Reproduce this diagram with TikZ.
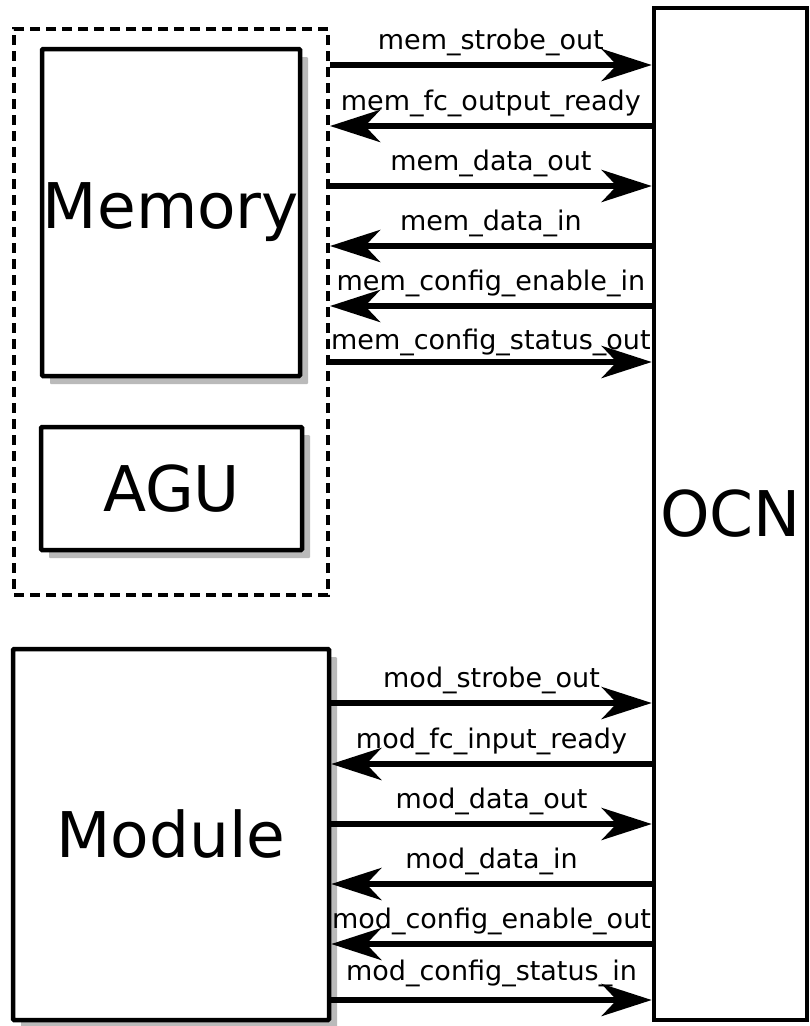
\documentclass[tikz,border=0pt]{standalone}
\usepackage{fontspec}
\setmainfont{DejaVu Sans}
\usetikzlibrary{arrows.meta}
\usetikzlibrary{shadows}

\begin{document}
\begin{tikzpicture}[x=1pt,y=-1pt,inner sep=0pt,
  blk/.style={draw,line width=4.5pt,fill=white,rounded corners=1pt,
    general shadow={fill=black!27,shadow xshift=8pt,shadow yshift=-8pt}},
  big/.style={font=\fontsize{63}{63}\selectfont},
  sig/.style={line width=6.5pt,-{Stealth[length=50pt,width=32pt,inset=15pt]}},
  lbl/.style={font=\fontsize{27}{27}\selectfont,anchor=base,midway,yshift=16pt}]
\useasboundingbox (0,0) rectangle (810,1026);

% blocks
\node[draw,line width=4pt,dash pattern=on 10pt off 6pt,minimum width=314pt,minimum height=566pt] (grp) at (171,312) {};
\node[blk,big,minimum width=258pt,minimum height=327pt] (mem) at (171,212.5) {Memory};
\node[blk,big,minimum width=261pt,minimum height=123pt] (agu) at (171.5,488.5) {AGU};
\node[blk,big,minimum width=316pt,minimum height=371pt] (mod) at (171,834.5) {Module};
\node[draw,line width=4.5pt,fill=white,big,minimum width=153pt,minimum height=1012pt] (ocn) at (730.5,514) {OCN};

% rows
\coordinate (m1) at (0,65);  \coordinate (m2) at (0,126); \coordinate (m3) at (0,186);
\coordinate (m4) at (0,246); \coordinate (m5) at (0,306); \coordinate (m6) at (0,362);
\coordinate (d1) at (0,703); \coordinate (d2) at (0,764); \coordinate (d3) at (0,824);
\coordinate (d4) at (0,884); \coordinate (d5) at (0,944); \coordinate (d6) at (0,1000);

% memory signals
\draw[sig] (grp.east |- m1) -- (ocn.west |- m1) node[lbl] {mem\_strobe\_out};
\draw[sig] (ocn.west |- m2) -- (grp.east |- m2) node[lbl] {mem\_fc\_output\_ready};
\draw[sig] (grp.east |- m3) -- (ocn.west |- m3) node[lbl] {mem\_data\_out};
\draw[sig] (ocn.west |- m4) -- (grp.east |- m4) node[lbl] {mem\_data\_in};
\draw[sig] (ocn.west |- m5) -- (grp.east |- m5) node[lbl] {mem\_config\_enable\_in};
\draw[sig] (grp.east |- m6) -- (ocn.west |- m6) node[lbl,yshift=-3.5pt] {mem\_config\_status\_out};

% module signals
\draw[sig] (mod.east |- d1) -- (ocn.west |- d1) node[lbl] {mod\_strobe\_out};
\draw[sig] (ocn.west |- d2) -- (mod.east |- d2) node[lbl] {mod\_fc\_input\_ready};
\draw[sig] (mod.east |- d3) -- (ocn.west |- d3) node[lbl] {mod\_data\_out};
\draw[sig] (ocn.west |- d4) -- (mod.east |- d4) node[lbl] {mod\_data\_in};
\draw[sig] (ocn.west |- d5) -- (mod.east |- d5) node[lbl] {mod\_config\_enable\_out};
\draw[sig] (mod.east |- d6) -- (ocn.west |- d6) node[lbl,yshift=4pt] {mod\_config\_status\_in};
\end{tikzpicture}
\end{document}
